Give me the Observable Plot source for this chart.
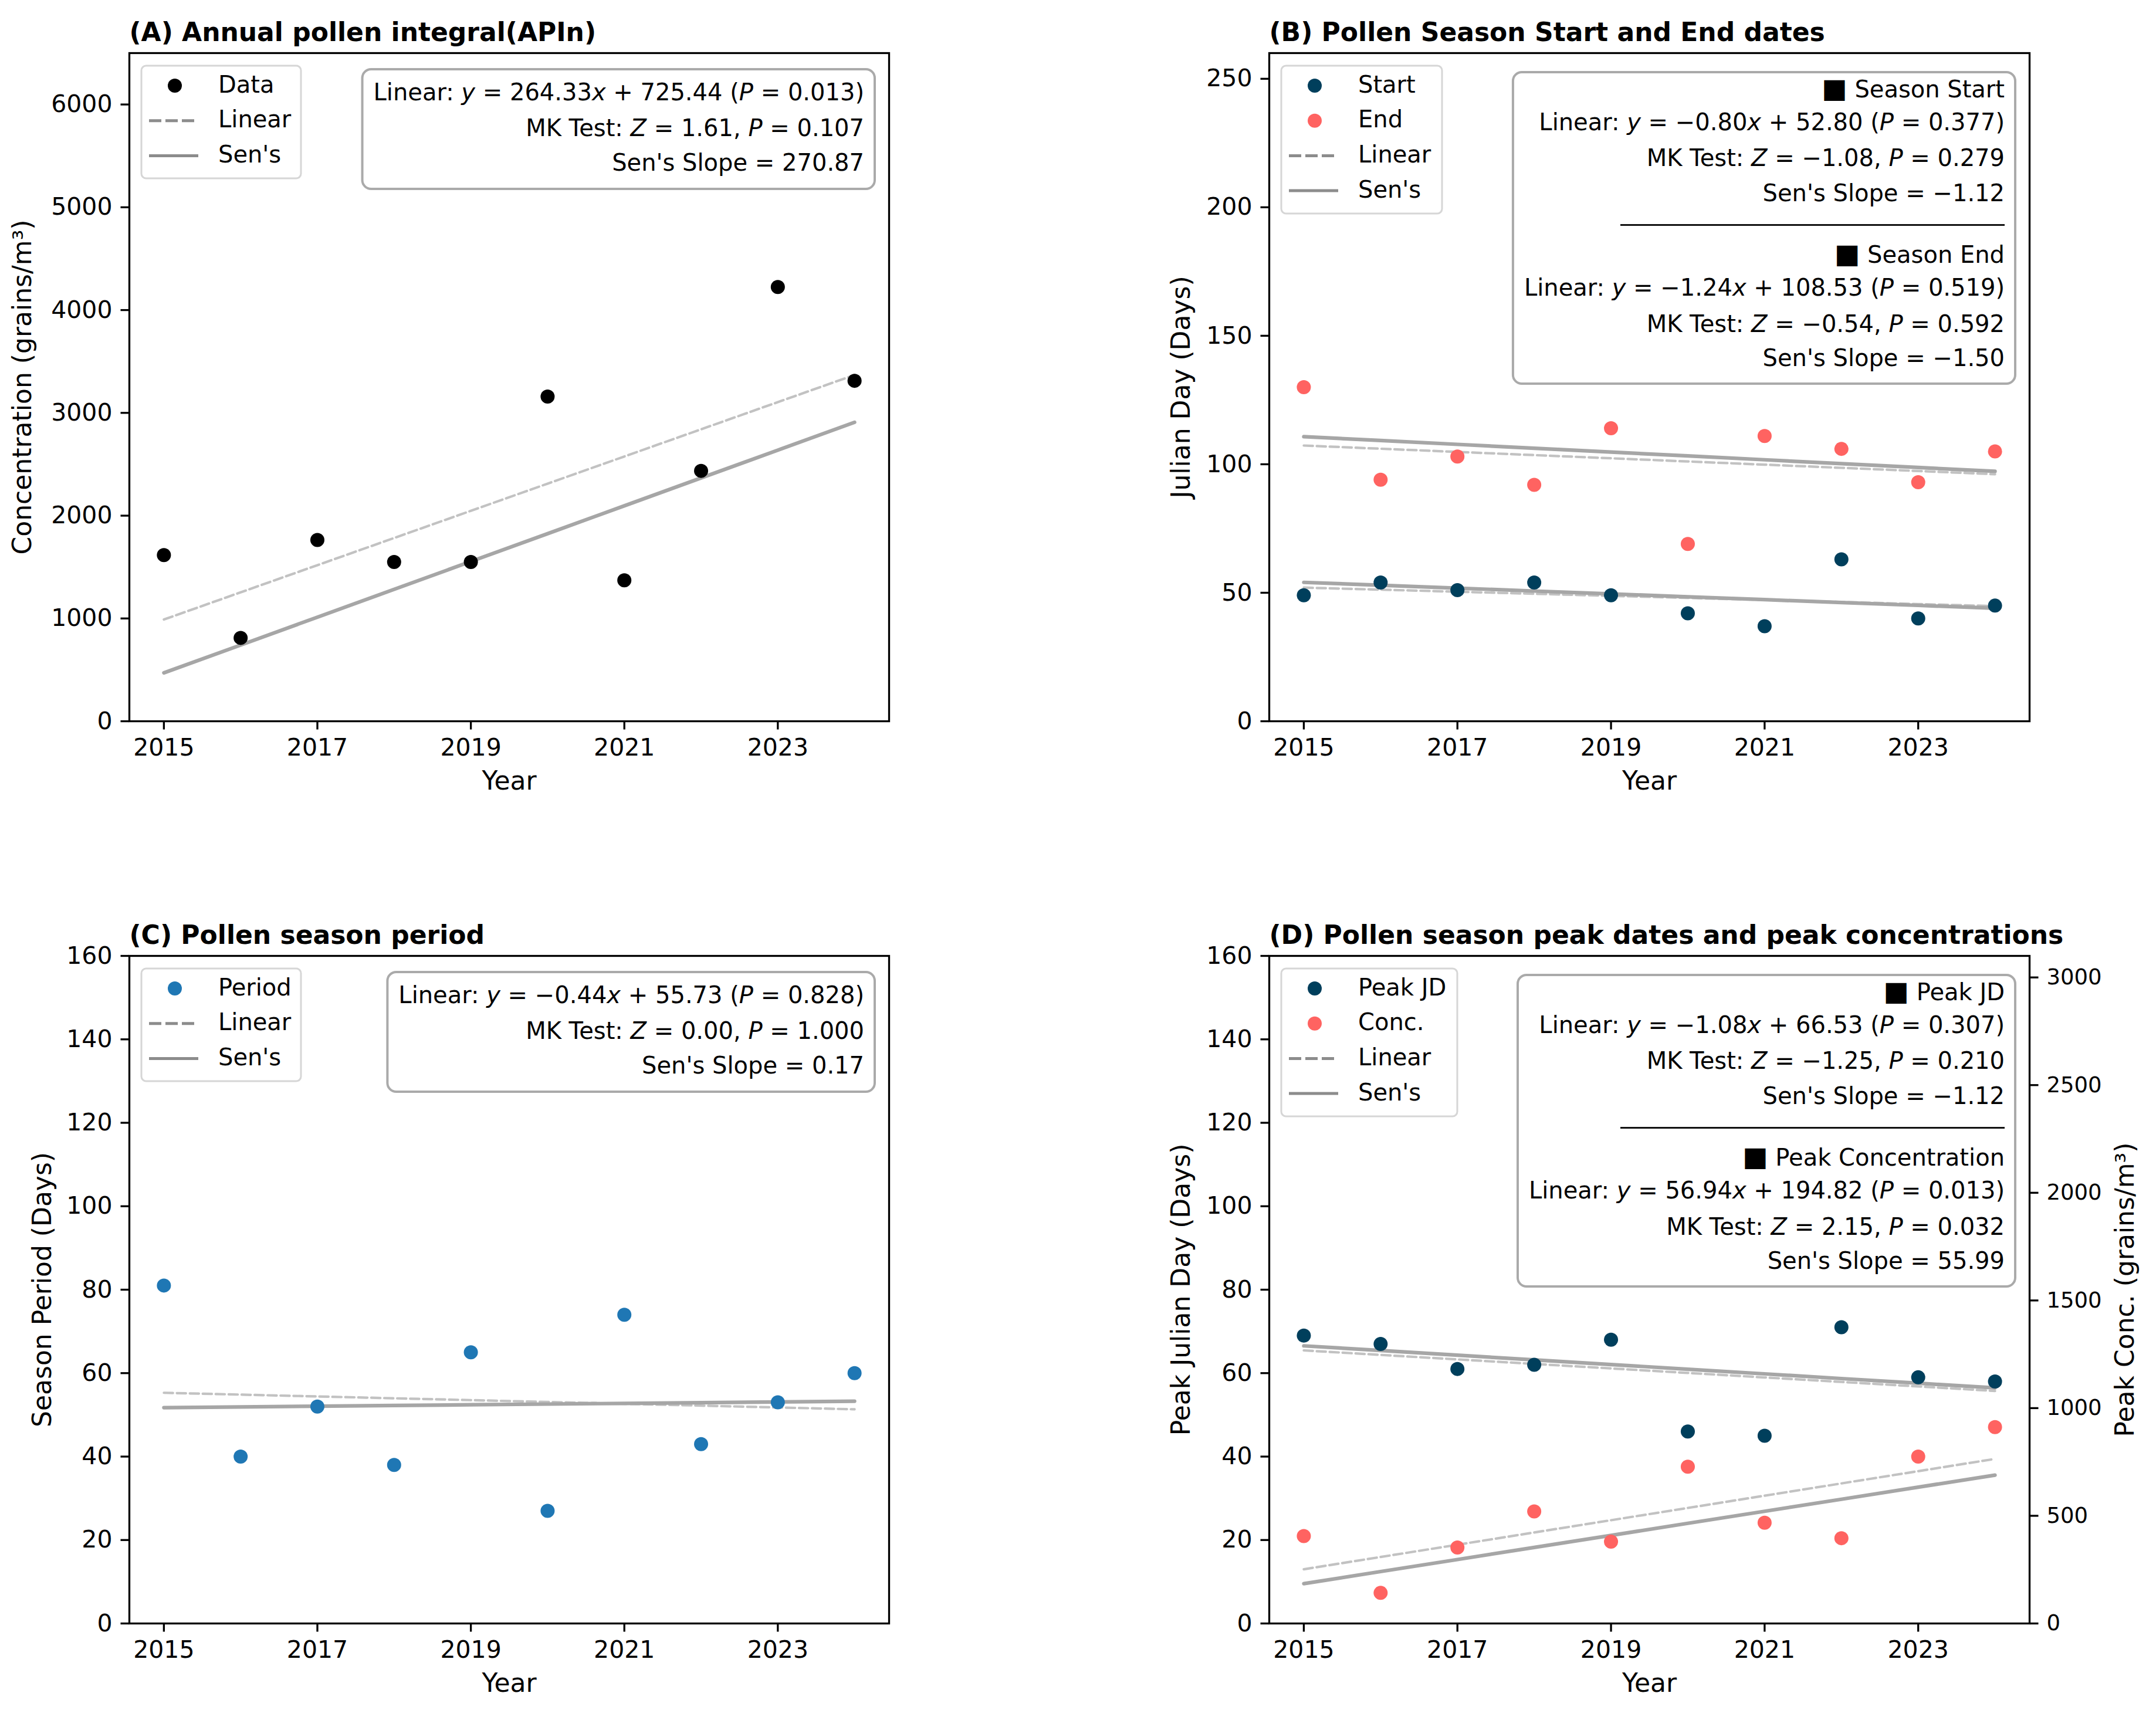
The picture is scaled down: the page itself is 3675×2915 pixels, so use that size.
<!DOCTYPE html>
<html>
<head>
<meta charset="utf-8">
<script src="https://cdn.jsdelivr.net/npm/d3@7"></script>
<script src="https://cdn.jsdelivr.net/npm/@observablehq/plot@0.6"></script>
<style>
  html, body { margin: 0; padding: 0; background: #fff; }
  #figure { position: relative; width: 3675px; height: 2915px; background: #fff; overflow: hidden; }
  .panel { position: absolute; }
  .panel svg { display: block; overflow: visible; }
</style>
</head>
<body>
<div id="figure"></div>
<script>
// ---- data -------------------------------------------------------------
const years = [2015, 2016, 2017, 2018, 2019, 2020, 2021, 2022, 2023, 2024];
const yearTicks = [2015, 2017, 2019, 2021, 2023];

const apin = [1616, 811, 1763, 1550, 1550, 3159, 1371, 2436, 4224, 3312];
const seasonStart = [49, 54, 51, 54, 49, 42, 37, 63, 40, 45];
const seasonEnd = [130, 94, 103, 92, 114, 69, 111, 106, 93, 105];
const seasonPeriod = [81, 40, 52, 38, 65, 27, 74, 43, 53, 60];
const peakDay = [69, 67, 61, 62, 68, 46, 45, 71, 59, 58];
const peakConc = [406, 142, 353, 520, 380, 728, 468, 396, 775, 912];

const apinTicks = [0, 1000, 2000, 3000, 4000, 5000, 6000];
const dayTicks = [0, 50, 100, 150, 200, 250];
const periodTicks = [0, 20, 40, 60, 80, 100, 120, 140, 160];
const concTicks = [0, 500, 1000, 1500, 2000, 2500, 3000];

// trend statistics: OLS fit on x = 1..n, Mann-Kendall test, Sen's slope
const apinTrend = {slope: 264.33, intercept: 725.44, p: 0.013, z: 1.61, mkP: 0.107, sen: 270.87};
const startTrend = {slope: -0.80, intercept: 52.80, p: 0.377, z: -1.08, mkP: 0.279, sen: -1.12};
const endTrend = {slope: -1.24, intercept: 108.53, p: 0.519, z: -0.54, mkP: 0.592, sen: -1.50};
const periodTrend = {slope: -0.44, intercept: 55.73, p: 0.828, z: 0.00, mkP: 1.000, sen: 0.17};
const peakDayTrend = {slope: -1.08, intercept: 66.53, p: 0.307, z: -1.25, mkP: 0.210, sen: -1.12};
const peakConcTrend = {slope: 56.94, intercept: 194.82, p: 0.013, z: 2.15, mkP: 0.032, sen: 55.99};

// ---- helpers ----------------------------------------------------------
const FONT = '"DejaVu Sans", sans-serif';
const NAVY = "#003f5c", SALMON = "#ff6361", BLUE = "#1f77b4";
const xDomain = [2014.55, 2024.45];
const f2 = d3.format(".2f"), f3 = d3.format(".3f");

const rows = values => years.map((year, i) => ({year, value: values[i]}));
const linearRows = t => years.map((year, i) => ({year, value: t.slope * (i + 1) + t.intercept}));
const senRows = (values, t) => {
  const my = d3.median(values), mx = d3.median(years);
  return years.map(year => ({year, value: my + t.sen * (year - mx)}));
};

function trendMarks(values, t, scale = 1) {
  return [
    Plot.line(linearRows(t), {x: "year", y: d => d.value * scale, stroke: "#c2c2c2", strokeWidth: 4.2, strokeDasharray: "15.4,6.7"}),
    Plot.line(senRows(values, t), {x: "year", y: d => d.value * scale, stroke: "#a6a6a6", strokeWidth: 6.2})
  ];
}

const linearLine = t => [{t: "Linear: "}, {t: "y", i: 1}, {t: ` = ${f2(t.slope)}`}, {t: "x", i: 1},
  {t: ` + ${f2(t.intercept)} (`}, {t: "P", i: 1}, {t: ` = ${f3(t.p)})`}];
const mkLine = t => [{t: "MK Test: "}, {t: "Z", i: 1}, {t: ` = ${f2(t.z)}, `}, {t: "P", i: 1}, {t: ` = ${f3(t.mkP)}`}];
const senLine = t => [{t: `Sen's Slope = ${f2(t.sen)}`}];
const headLine = s => [{t: "■", size: 46}, {t: " " + s}];

const ctx = document.createElement("canvas").getContext("2d");
function textWidth(segs, size = 40) {
  let w = 0;
  for (const s of segs) {
    ctx.font = `${s.i ? "italic " : ""}${s.size || size}px ${FONT}`;
    w += ctx.measureText(s.t).width;
  }
  return w;
}

// frame, axes, title and axis labels shared by every panel
function axesMarks(yTicks, ylabel, ylabelDx, title) {
  return [
    Plot.frame({stroke: "black", strokeWidth: 3.3}),
    Plot.axisX(yearTicks, {tickSize: 14.5, tickPadding: 14.5, fontSize: 41, strokeWidth: 3.3, tickFormat: "d", label: null}),
    Plot.axisY(yTicks, {tickSize: 14.5, tickPadding: 14.5, fontSize: 41, strokeWidth: 3.3, tickFormat: "d", label: null}),
    Plot.text([title], {text: d => d, frameAnchor: "top-left", dy: -21, lineAnchor: "bottom", textAnchor: "start", fontSize: 44, fontWeight: "bold"}),
    Plot.text(["Year"], {text: d => d, frameAnchor: "bottom", dy: 116, lineAnchor: "bottom", fontSize: 44}),
    Plot.text([ylabel], {text: d => d, frameAnchor: "left", dx: ylabelDx, rotate: -90, lineAnchor: "middle", textAnchor: "middle", fontSize: 44})
  ];
}

// legend box in the upper-left corner of the frame
function legendMark(q, entries, boxWidth) {
  return () => {
    const x0 = q.m.left, y0 = q.m.top;
    const g = d3.create("svg:g").attr("font-family", FONT).attr("font-size", 40).attr("fill", "black").attr("text-anchor", "start");
    g.append("rect").attr("x", x0 + 21).attr("y", y0 + 22).attr("width", boxWidth).attr("height", 60 * entries.length + 12)
      .attr("rx", 8).attr("fill", "white").attr("stroke", "#d6d6d6").attr("stroke-width", 3);
    entries.forEach((e, i) => {
      const cy = y0 + 56 + 59.7 * i;
      if (e.type === "dot") {
        g.append("circle").attr("cx", x0 + 78).attr("cy", cy).attr("r", 12).attr("fill", e.color);
      } else {
        g.append("line").attr("x1", x0 + 34).attr("x2", x0 + 118).attr("y1", cy).attr("y2", cy)
          .attr("stroke", "#8c8c8c").attr("stroke-width", 5)
          .attr("stroke-dasharray", e.type === "dash" ? "21,7" : null);
      }
      g.append("text").attr("x", x0 + 152).attr("y", cy + 11.5).attr("text-anchor", "start").text(e.label);
    });
    return g.node();
  };
}

// statistics box in the upper-right corner of the frame
function statsMark(q, lines, box) {
  return () => {
    const R = q.width - q.m.right, T = q.m.top, xr = R - 42;
    const g = d3.create("svg:g").attr("font-family", FONT).attr("font-size", 40).attr("fill", "black");
    const maxW = d3.max(lines, l => textWidth(l.segs));
    g.append("rect").attr("x", xr - maxW - 19).attr("y", T + box.top).attr("width", maxW + 37)
      .attr("height", box.bottom - box.top).attr("rx", 15)
      .attr("fill", "white").attr("stroke", "#aaaaaa").attr("stroke-width", 4);
    for (const l of lines) {
      const t = g.append("text").attr("x", xr).attr("y", T + l.y).attr("text-anchor", "end").style("white-space", "pre");
      for (const s of l.segs) {
        t.append("tspan").attr("font-style", s.i ? "italic" : null).attr("font-size", s.size || null).text(s.t);
      }
    }
    if (box.sep != null) {
      g.append("line").attr("x1", xr - 655).attr("x2", xr).attr("y1", T + box.sep).attr("y2", T + box.sep)
        .attr("stroke", "#111").attr("stroke-width", 3);
    }
    return g.node();
  };
}

const Q = {
  A: {left: 0, top: 0, width: 1837, height: 1457, m: {top: 90, right: 322, bottom: 228, left: 220}},
  B: {left: 1837, top: 0, width: 1838, height: 1457, m: {top: 90, right: 216, bottom: 228, left: 326}},
  C: {left: 0, top: 1457, width: 1837, height: 1458, m: {top: 172, right: 322, bottom: 148, left: 220}},
  D: {left: 1837, top: 1457, width: 1838, height: 1458, m: {top: 172, right: 216, bottom: 148, left: 326}}
};

const fig = document.getElementById("figure");
function draw(q, yDomain, marks) {
  const svg = Plot.plot({
    width: q.width, height: q.height,
    marginTop: q.m.top, marginRight: q.m.right, marginBottom: q.m.bottom, marginLeft: q.m.left,
    x: {domain: xDomain},
    y: {domain: yDomain},
    style: {fontFamily: FONT, color: "black", background: "none", overflow: "visible"},
    marks
  });
  const div = document.createElement("div");
  div.className = "panel";
  div.style.left = q.left + "px";
  div.style.top = q.top + "px";
  div.appendChild(svg);
  fig.appendChild(div);
}

const threeLine = t => [
  {segs: linearLine(t), y: 81}, {segs: mkLine(t), y: 142}, {segs: senLine(t), y: 201}
];
const twoBlock = (h1, t1, h2, t2) => [
  {segs: headLine(h1), y: 75.5}, {segs: linearLine(t1), y: 131.5}, {segs: mkLine(t1), y: 193}, {segs: senLine(t1), y: 252.5},
  {segs: headLine(h2), y: 358}, {segs: linearLine(t2), y: 413.5}, {segs: mkLine(t2), y: 476}, {segs: senLine(t2), y: 534}
];

// (A) annual pollen integral
draw(Q.A, [0, 6500], [
  ...trendMarks(apin, apinTrend),
  Plot.dot(rows(apin), {x: "year", y: "value", r: 12, fill: "black"}),
  ...axesMarks(apinTicks, "Concentration (grains/m³)", -182, "(A) Annual pollen integral(APIn)"),
  legendMark(Q.A, [{type: "dot", color: "black", label: "Data"}, {type: "dash", label: "Linear"}, {type: "solid", label: "Sen's"}], 272),
  statsMark(Q.A, threeLine(apinTrend), {top: 28, bottom: 232})
]);

// (B) season start and end dates
draw(Q.B, [0, 260], [
  ...trendMarks(seasonStart, startTrend),
  ...trendMarks(seasonEnd, endTrend),
  Plot.dot(rows(seasonStart), {x: "year", y: "value", r: 12, fill: NAVY}),
  Plot.dot(rows(seasonEnd), {x: "year", y: "value", r: 12, fill: SALMON}),
  ...axesMarks(dayTicks, "Julian Day (Days)", -150, "(B) Pollen Season Start and End dates"),
  legendMark(Q.B, [{type: "dot", color: NAVY, label: "Start"}, {type: "dot", color: SALMON, label: "End"},
    {type: "dash", label: "Linear"}, {type: "solid", label: "Sen's"}], 274),
  statsMark(Q.B, twoBlock("Season Start", startTrend, "Season End", endTrend), {top: 33, bottom: 564, sep: 293.5})
]);

// (C) season length
draw(Q.C, [0, 160], [
  ...trendMarks(seasonPeriod, periodTrend),
  Plot.dot(rows(seasonPeriod), {x: "year", y: "value", r: 12, fill: BLUE}),
  ...axesMarks(periodTicks, "Season Period (Days)", -148, "(C) Pollen season period"),
  legendMark(Q.C, [{type: "dot", color: BLUE, label: "Period"}, {type: "dash", label: "Linear"}, {type: "solid", label: "Sen's"}], 272),
  statsMark(Q.C, threeLine(periodTrend), {top: 28, bottom: 232})
]);

// (D) peak day (left axis) and peak concentration (right axis)
const k = 160 / 3100; // concentration units -> left-axis units
draw(Q.D, [0, 160], [
  ...trendMarks(peakDay, peakDayTrend),
  ...trendMarks(peakConc, peakConcTrend, k),
  Plot.dot(rows(peakDay), {x: "year", y: "value", r: 12, fill: NAVY}),
  Plot.dot(rows(peakConc), {x: "year", y: d => d.value * k, r: 12, fill: SALMON}),
  ...axesMarks(periodTicks, "Peak Julian Day (Days)", -150, "(D) Pollen season peak dates and peak concentrations"),
  Plot.axisY(concTicks.map(v => v * k), {anchor: "right", tickSize: 14.5, tickPadding: 14.5, fontSize: 37, strokeWidth: 3.3,
    tickFormat: d => d3.format("d")(Math.round(d / k)), label: null}),
  Plot.text(["Peak Conc. (grains/m³)"], {text: d => d, frameAnchor: "right", dx: 163, rotate: -90, lineAnchor: "middle", textAnchor: "middle", fontSize: 44}),
  legendMark(Q.D, [{type: "dot", color: NAVY, label: "Peak JD"}, {type: "dot", color: SALMON, label: "Conc."},
    {type: "dash", label: "Linear"}, {type: "solid", label: "Sen's"}], 300),
  statsMark(Q.D, twoBlock("Peak JD", peakDayTrend, "Peak Concentration", peakConcTrend), {top: 33, bottom: 564, sep: 293.5})
]);
</script>
</body>
</html>
